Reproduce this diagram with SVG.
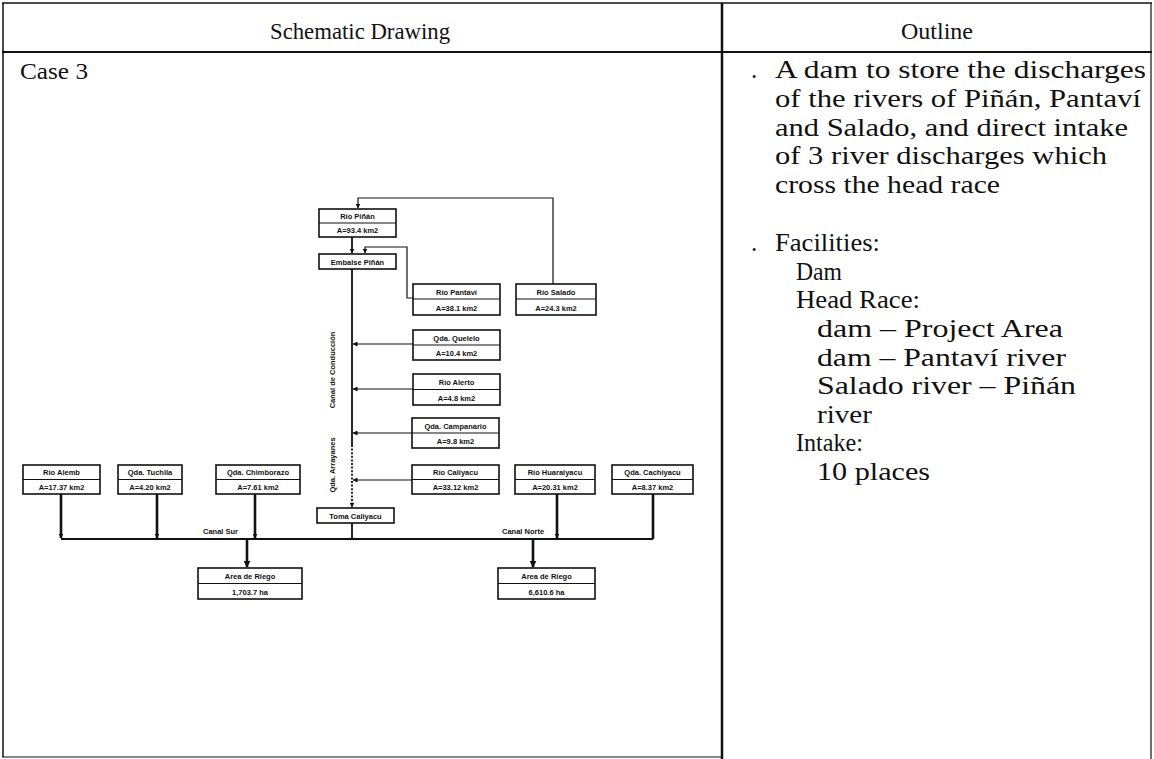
<svg xmlns="http://www.w3.org/2000/svg" width="1154" height="759" viewBox="0 0 1154 759">
<defs>
<style>
.frame{stroke:#111;fill:none}
.box{fill:#fff;stroke:#111;stroke-width:1.6}
.dv{stroke:#111;stroke-width:1}
.nt{font-family:"Liberation Sans",Arial,sans-serif;font-size:7.5px;font-weight:bold;text-anchor:middle;fill:#111}
.lb{font-family:"Liberation Sans",Arial,sans-serif;font-size:7.5px;font-weight:bold;fill:#111}
.c{stroke:#111;fill:none;stroke-width:1.2}
.th{stroke-width:2.6}
.md{stroke-width:1.8}
.dot{stroke-dasharray:2 1.6}
.hd{font-family:"Liberation Serif","Times New Roman",serif;font-size:24px;fill:#111}
.body{font-family:"Liberation Serif","Times New Roman",serif;font-size:25px;fill:#111}
</style>
<marker id="ah" viewBox="0 0 10 10" refX="9" refY="5" markerWidth="5" markerHeight="5" orient="auto" markerUnits="userSpaceOnUse">
<path d="M0,0 L10,5 L0,10 z" fill="#111"/>
</marker>
<marker id="ahb" viewBox="0 0 10 10" refX="9" refY="5" markerWidth="7" markerHeight="7" orient="auto" markerUnits="userSpaceOnUse">
<path d="M0,0 L10,5 L0,10 z" fill="#111"/>
</marker>
</defs>
<rect width="1154" height="759" fill="#fff"/>

<g id="table">
<line class="frame" x1="2" y1="3" x2="1152" y2="3" stroke-width="1.5"/>
<line class="frame" x1="2" y1="52" x2="1152" y2="52" stroke-width="2"/>
<line class="frame" x1="3" y1="3" x2="3" y2="757" stroke-width="1.5"/>
<line class="frame" x1="722" y1="3" x2="722" y2="759" stroke-width="2.5"/>
<line class="frame" x1="1151" y1="3" x2="1151" y2="759" stroke-width="1.2"/>
<line class="frame" x1="2" y1="757" x2="722" y2="757" stroke-width="1.2"/>
<text class="hd" x="360" y="39" text-anchor="middle" textLength="180" lengthAdjust="spacingAndGlyphs">Schematic Drawing</text>
<text class="hd" x="937" y="39" text-anchor="middle" textLength="72" lengthAdjust="spacingAndGlyphs">Outline</text>
<text class="hd" x="20" y="79" textLength="68" lengthAdjust="spacingAndGlyphs">Case 3</text>
</g>

<g id="outline-text">
<text class="body" x="751" y="78">.</text>
<text class="body" x="775" y="78" textLength="371" lengthAdjust="spacingAndGlyphs">A dam to store the discharges</text>
<text class="body" x="775" y="107" textLength="366" lengthAdjust="spacingAndGlyphs">of the rivers of Piñán, Pantaví</text>
<text class="body" x="775" y="136" textLength="353" lengthAdjust="spacingAndGlyphs">and Salado, and direct intake</text>
<text class="body" x="775" y="164" textLength="332" lengthAdjust="spacingAndGlyphs">of 3 river discharges which</text>
<text class="body" x="775" y="193" textLength="225" lengthAdjust="spacingAndGlyphs">cross the head race</text>
<text class="body" x="751" y="251">.</text>
<text class="body" x="775" y="251" textLength="105" lengthAdjust="spacingAndGlyphs">Facilities:</text>
<text class="body" x="796" y="280" textLength="46" lengthAdjust="spacingAndGlyphs">Dam</text>
<text class="body" x="796" y="308" textLength="124" lengthAdjust="spacingAndGlyphs">Head Race:</text>
<text class="body" x="817" y="337" textLength="246" lengthAdjust="spacingAndGlyphs">dam – Project Area</text>
<text class="body" x="817" y="366" textLength="249" lengthAdjust="spacingAndGlyphs">dam – Pantaví river</text>
<text class="body" x="817" y="394" textLength="259" lengthAdjust="spacingAndGlyphs">Salado river – Piñán</text>
<text class="body" x="817" y="423" textLength="55" lengthAdjust="spacingAndGlyphs">river</text>
<text class="body" x="796" y="451" textLength="67" lengthAdjust="spacingAndGlyphs">Intake:</text>
<text class="body" x="817" y="480" textLength="113" lengthAdjust="spacingAndGlyphs">10 places</text>
</g>

<g id="connectors">
<path class="c" d="M553,284 V198 H358 V208" marker-end="url(#ah)"/>
<path class="c md" d="M352,237 V253" marker-end="url(#ah)"/>
<path class="c" d="M413,298 H407 V247 H365 V253" marker-end="url(#ah)"/>
<path class="c md" d="M352,269 V445"/>
<path class="c md dot" d="M352,445 V507" marker-end="url(#ah)"/>
<path class="c" d="M413,344 H353" marker-end="url(#ah)"/>
<path class="c" d="M413,389 H353" marker-end="url(#ah)"/>
<path class="c" d="M412,433 H353" marker-end="url(#ah)"/>
<path class="c" d="M412,480 H353" marker-end="url(#ah)"/>
<path class="c md" d="M352,523 V539"/>
<path class="c md" d="M61,539 H653"/>
<path class="c th" d="M61,494 V538" marker-end="url(#ah)"/>
<path class="c th" d="M157,494 V538" marker-end="url(#ah)"/>
<path class="c th" d="M255,494 V538" marker-end="url(#ah)"/>
<path class="c th" d="M557,494 V538" marker-end="url(#ah)"/>
<path class="c th" d="M653,494 V539"/>
<path class="c th" d="M247,539 V567" marker-end="url(#ahb)"/>
<path class="c th" d="M533,539 V567" marker-end="url(#ahb)"/>
<text class="lb" x="203" y="534">Canal Sur</text>
<text class="lb" x="502" y="534">Canal Norte</text>
<text class="lb" transform="translate(335,370) rotate(-90)" text-anchor="middle">Canal de Conducción</text>
<text class="lb" transform="translate(335,465) rotate(-90)" text-anchor="middle">Qda. Arrayanes</text>
</g>

<g id="rio-pinan"><rect class="box" x="319" y="209" width="77" height="28"/><line class="dv" x1="319" y1="223" x2="396" y2="223"/><text class="nt" x="357.5" y="219">Río Piñán</text><text class="nt" x="357.5" y="233">A=93.4 km2</text></g>
<g id="embalse-pinan"><rect class="box" x="319" y="254" width="77" height="15"/><text class="nt" x="357.5" y="264.5">Embalse Piñán</text></g>
<g id="rio-pantavi"><rect class="box" x="413" y="284" width="87" height="31"/><line class="dv" x1="413" y1="299" x2="500" y2="299"/><text class="nt" x="456.5" y="295">Río Pantaví</text><text class="nt" x="456.5" y="310.5">A=38.1 km2</text></g>
<g id="rio-salado"><rect class="box" x="516" y="284" width="80" height="31"/><line class="dv" x1="516" y1="299" x2="596" y2="299"/><text class="nt" x="556" y="295">Río Salado</text><text class="nt" x="556" y="310.5">A=24.3 km2</text></g>
<g id="qda-quelelo"><rect class="box" x="413" y="330" width="87" height="30"/><line class="dv" x1="413" y1="345" x2="500" y2="345"/><text class="nt" x="456.5" y="341">Qda. Quelelo</text><text class="nt" x="456.5" y="356">A=10.4 km2</text></g>
<g id="rio-alerto"><rect class="box" x="413" y="374" width="87" height="31"/><line class="dv" x1="413" y1="389.5" x2="500" y2="389.5"/><text class="nt" x="456.5" y="385">Río Alerto</text><text class="nt" x="456.5" y="401">A=4.8 km2</text></g>
<g id="qda-campanario"><rect class="box" x="412" y="418" width="87" height="30"/><line class="dv" x1="412" y1="433" x2="499" y2="433"/><text class="nt" x="455.5" y="429">Qda. Campanario</text><text class="nt" x="455.5" y="444">A=9.8 km2</text></g>
<g id="rio-caliyacu"><rect class="box" x="412" y="465" width="87" height="29"/><line class="dv" x1="412" y1="479.5" x2="499" y2="479.5"/><text class="nt" x="455.5" y="475">Río Caliyacu</text><text class="nt" x="455.5" y="490">A=33.12 km2</text></g>
<g id="rio-huaraiyacu"><rect class="box" x="515" y="465" width="80" height="29"/><line class="dv" x1="515" y1="479.5" x2="595" y2="479.5"/><text class="nt" x="555" y="475">Río Huaraiyacu</text><text class="nt" x="555" y="490">A=20.31 km2</text></g>
<g id="qda-cachiyacu"><rect class="box" x="612" y="465" width="81" height="29"/><line class="dv" x1="612" y1="479.5" x2="693" y2="479.5"/><text class="nt" x="652.5" y="475">Qda. Cachiyacu</text><text class="nt" x="652.5" y="490">A=8.37 km2</text></g>
<g id="rio-alemb"><rect class="box" x="23" y="465" width="77" height="29"/><line class="dv" x1="23" y1="479.5" x2="100" y2="479.5"/><text class="nt" x="61.5" y="475">Río Alemb</text><text class="nt" x="61.5" y="490">A=17.37 km2</text></g>
<g id="qda-tuchila"><rect class="box" x="118" y="465" width="64" height="29"/><line class="dv" x1="118" y1="479.5" x2="182" y2="479.5"/><text class="nt" x="150" y="475">Qda. Tuchila</text><text class="nt" x="150" y="490">A=4.20 km2</text></g>
<g id="qda-chimborazo"><rect class="box" x="216" y="465" width="84" height="29"/><line class="dv" x1="216" y1="479.5" x2="300" y2="479.5"/><text class="nt" x="258" y="475">Qda. Chimborazo</text><text class="nt" x="258" y="490">A=7.61 km2</text></g>
<g id="toma-caliyacu"><rect class="box" x="317" y="508" width="77" height="15"/><text class="nt" x="355.5" y="518.5">Toma Caliyacu</text></g>
<g id="area-riego-sur"><rect class="box" x="198" y="568" width="104" height="31"/><line class="dv" x1="198" y1="583.5" x2="302" y2="583.5"/><text class="nt" x="250" y="579">Area de Riego</text><text class="nt" x="250" y="595">1,703.7 ha</text></g>
<g id="area-riego-norte"><rect class="box" x="498" y="568" width="97" height="31"/><line class="dv" x1="498" y1="583.5" x2="595" y2="583.5"/><text class="nt" x="546.5" y="579">Area de Riego</text><text class="nt" x="546.5" y="595">6,610.6 ha</text></g>
</svg>
